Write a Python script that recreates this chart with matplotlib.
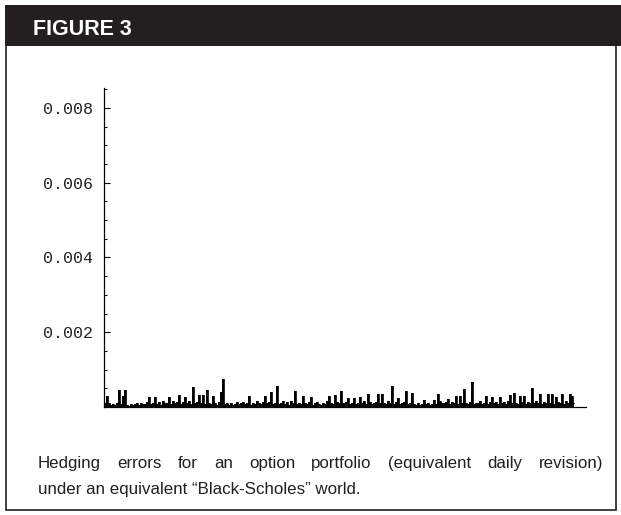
# Figure 3: hedging errors under an equivalent Black-Scholes world
import numpy as np
import matplotlib
matplotlib.use('Agg')
import matplotlib.pyplot as plt
from matplotlib.patches import Rectangle

# data -----------------------------------------------------------------------
# hedging error per revision, in units of 1e-5
err = [12, 30, 10, 6, 8, 5, 12, 45, 7, 30, 45, 6, 4, 9, 5, 8, 12, 6, 10, 8,
       9, 14, 28, 7, 11, 27, 8, 13, 6, 15, 10, 12, 26, 9, 16, 11, 14, 33, 8, 13,
       27, 12, 15, 8, 53, 10, 14, 32, 11, 33, 9, 45, 12, 7, 30, 10, 6, 13, 40, 75,
       8, 12, 6, 10, 5, 9, 14, 7, 11, 13, 8, 10, 30, 6, 12, 9, 15, 11, 8, 14,
       30, 10, 14, 40, 9, 12, 56, 7, 11, 15, 8, 13, 6, 16, 10, 43, 9, 12, 7, 30,
       11, 8, 14, 28, 6, 10, 13, 9, 5, 12, 7, 15, 30, 11, 8, 32, 13, 10, 43, 12,
       9, 14, 25, 8, 11, 25, 7, 12, 28, 10, 15, 9, 34, 13, 8, 11, 14, 34, 10, 34,
       12, 8, 15, 10, 56, 9, 13, 24, 7, 11, 14, 43, 9, 12, 37, 8, 6, 10, 5, 9,
       20, 7, 11, 6, 9, 20, 8, 35, 15, 12, 10, 14, 22, 9, 13, 11, 30, 8, 30, 10,
       48, 12, 9, 14, 66, 8, 11, 10, 15, 7, 12, 30, 9, 13, 27, 10, 14, 8, 27, 11,
       13, 9, 15, 32, 10, 37, 12, 8, 30, 14, 30, 9, 13, 11, 50, 10, 15, 12, 34, 9,
       14, 10, 35, 12, 35, 9, 26, 13, 11, 36, 8, 15, 12, 34, 30, 10]
major_ticks = [0.002, 0.004, 0.006, 0.008]
title = 'FIGURE 3'
caption_1 = 'Hedging errors for an option portfolio (equivalent daily revision)'
caption_2 = 'under an equivalent \u201cBlack-Scholes\u201d world.'

W, H = 621, 515
y = np.array(err) * 1e-5
x = np.arange(len(y))
ink = '#231f20'

fig = plt.figure(figsize=(W / 100, H / 100), dpi=100)

# frame and header -----------------------------------------------------------
fig.patches.append(Rectangle((6 / W, 1 - 510 / H), 610 / W, 465 / H,
                             transform=fig.transFigure, facecolor='none',
                             edgecolor=ink, linewidth=1.2))
fig.patches.append(Rectangle((5 / W, 1 - 46 / H), 1 - 5 / W, 41 / H,
                             transform=fig.transFigure, facecolor=ink,
                             edgecolor='none'))
fig.text(33 / W, 1 - 35 / H, title, color='white', fontsize=15.5,
         fontweight='bold', family='Liberation Sans',
         va='baseline', ha='left')

# plot -----------------------------------------------------------------------
ax = fig.add_axes([104 / W, 1 - 407 / H, 482 / W, 319 / H])
ax.fill_between(x, y, step='mid', color='black', linewidth=0)
ax.step(x, y, where='mid', color='black', linewidth=0.6)
ax.set_xlim(-0.5, 241)
ax.set_ylim(0, 0.00853)

for s in ['top', 'right']:
    ax.spines[s].set_visible(False)
for s in ['left', 'bottom']:
    ax.spines[s].set_linewidth(0.9)

ax.set_xticks([])
ax.set_yticks(major_ticks)
ax.set_yticks(np.arange(0.0005, 0.0086, 0.0005), minor=True)
ax.set_yticklabels(['%.3f' % t for t in major_ticks])
ax.tick_params(axis='y', which='major', direction='in', length=4, width=0.8,
               pad=8, labelsize=12, labelcolor='#222222')
ax.tick_params(axis='y', which='minor', direction='in', length=2.5, width=0.8)
for lbl in ax.get_yticklabels():
    lbl.set_family('Liberation Mono')

# caption (justified first line) ---------------------------------------------
cap_font = dict(fontsize=12.2, color=ink, family='Liberation Sans')
words = caption_1.split()
texts = [fig.text(0, 1 - 468 / H, w, va='baseline', ha='left', **cap_font)
         for w in words]
fig.canvas.draw()
r = fig.canvas.get_renderer()
widths = [t.get_window_extent(r).width for t in texts]
gap = (603 - 38 - sum(widths)) / (len(words) - 1)
xpos = 38
for t, w in zip(texts, widths):
    t.set_x(xpos / W)
    xpos += w + gap
fig.text(38 / W, 1 - 494 / H, caption_2, va='baseline', ha='left', **cap_font)

plt.savefig('out.png', dpi=100)
